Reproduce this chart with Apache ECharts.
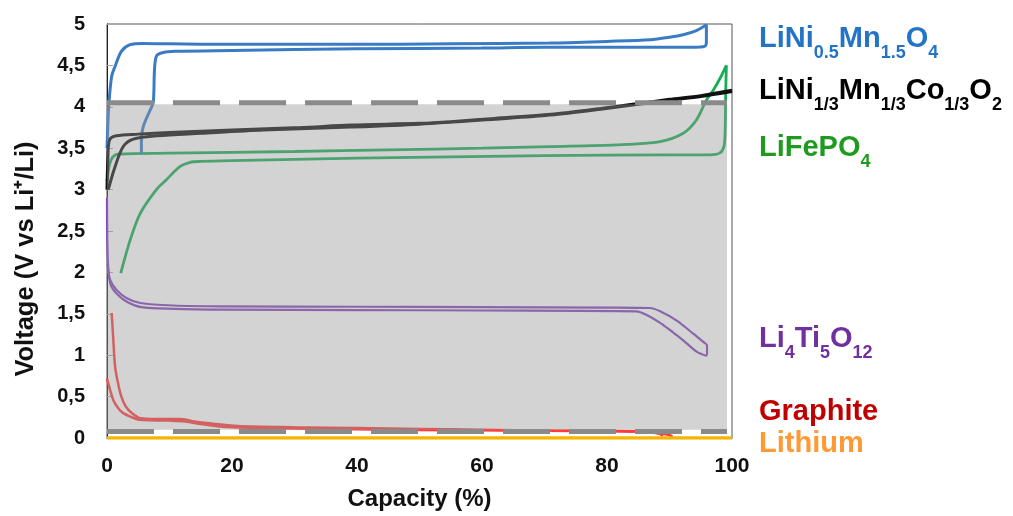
<!DOCTYPE html>
<html>
<head>
<meta charset="utf-8">
<script src="https://cdn.jsdelivr.net/npm/echarts@6/dist/echarts.min.js"></script>
<style>
html,body{margin:0;padding:0;background:#fff;}
#chart{width:1013px;height:516px;}
</style>
</head>
<body>
<div id="chart"></div>
<script>
// ---- axis ticks ----
var capacityTicks = [0, 20, 40, 60, 80, 100];
var voltageTickLabels = ['0', '0,5', '1', '1,5', '2', '2,5', '3', '3,5', '4', '4,5', '5'];

// ---- stability window (V) ----
var windowBounds = [0.1, 4.03];
var windowEnd = 99.2;
var dashedLevels = [4.05, 0.077];

// ---- LiNi0.5Mn1.5O4 ----
var lnmoCharge = [[0,3.5],[0.15,3.8],[0.3,4.04],[0.75,4.37],[1.3,4.49],[2.3,4.67],[3.7,4.75],[5.8,4.765],[10,4.76],[20,4.755],[38.8,4.755],[55,4.76],[70.8,4.77],[80,4.79],[86.9,4.81],[90,4.84],[92.2,4.87],[94.3,4.92],[95.7,4.98],[95.9,4.995]];
var lnmoDischarge = [[95.9,4.995],[95.9,4.78],[95.6,4.73],[94,4.72],[80,4.72],[70,4.72],[60,4.71],[40,4.70],[20,4.68],[11,4.67],[8.7,4.65],[7.9,4.61],[7.6,4.45],[7.4,4.05],[6.9,3.96],[5.8,3.76],[5.5,3.6],[5.5,3.44]];

// ---- LiNi1/3Mn1/3Co1/3O2 ----
var nmcCharge = [[0,3.0],[0.15,3.4],[0.4,3.6],[1.5,3.65],[5,3.67],[10,3.69],[20,3.72],[31,3.75],[39,3.78],[50,3.8],[55,3.82],[62,3.86],[71,3.91],[79,3.98],[85,4.04],[90,4.09],[95,4.135],[100,4.2]];
var nmcDischarge = [[0.2,3.0],[1.3,3.28],[2.6,3.52],[4.2,3.61],[8,3.65],[15,3.68],[25,3.72],[39,3.755],[50,3.79],[62,3.85],[71,3.9],[79,3.97],[85,4.03],[90,4.08],[95,4.125],[100,4.185]];

// ---- LiFePO4 ----
var lfpCharge = [[0,3.1],[0.4,3.3],[1,3.4],[2,3.43],[10,3.44],[30,3.46],[45,3.48],[60,3.5],[71,3.52],[81.5,3.54],[88.5,3.58],[92.2,3.68],[94.3,3.84],[95.9,4.08],[97,4.2],[98.2,4.36],[99.1,4.5]];
var lfpDischarge = [[99.1,4.5],[99.0,4.2],[98.9,3.7],[98.7,3.52],[98,3.44],[96.5,3.42],[90,3.42],[70,3.41],[40,3.38],[20,3.35],[15,3.34],[13.3,3.33],[11.7,3.28],[9.5,3.12],[7.9,3.0],[5.3,2.71],[3.7,2.39],[2.2,1.99]];

// ---- Li4Ti5O12 ----
var ltoCharge = [[0,2.9],[0.05,2.4],[0.2,2.05],[0.5,1.91],[1.5,1.79],[3.1,1.69],[5.3,1.63],[10.6,1.6],[18.6,1.59],[40,1.585],[60,1.58],[80,1.575],[86.9,1.57],[88.5,1.53],[91.1,1.42],[93.8,1.26],[95.4,1.16],[96,1.12],[96,1.0]];
var ltoDischarge = [[0.1,2.1],[0.6,1.85],[1.6,1.74],[3.3,1.64],[5.5,1.58],[10.6,1.56],[18.6,1.55],[40,1.545],[60,1.54],[84.7,1.53],[86.5,1.48],[88.5,1.39],[90.5,1.28],[92.2,1.18],[94.4,1.04],[96,0.99]];

// ---- Graphite ----
var graphiteA = [[0.75,1.51],[1.0,1.2],[1.3,0.86],[1.8,0.65],[2.3,0.5],[3,0.38],[4,0.3],[5.3,0.24],[8,0.23],[11.7,0.23],[14,0.2],[16,0.18],[21,0.145],[30,0.13],[40,0.12],[50,0.11],[60,0.1],[70,0.09],[80,0.085],[86,0.08],[88,0.06],[89,0.03]];
var graphiteB = [[0,0.72],[0.5,0.58],[1,0.46],[1.8,0.36],[2.6,0.3],[4,0.25],[5.3,0.22],[10,0.21],[12.5,0.2],[15,0.17],[18,0.14],[25,0.12],[35,0.11],[45,0.1],[55,0.095],[65,0.09],[75,0.085],[85,0.075],[89,0.05],[90.5,0.02]];

// ---- Lithium ----
var lithium = [[0,0],[100,0]];

var chart = echarts.init(document.getElementById('chart'), null, {renderer:'canvas'});
var NARROW = '"Liberation Sans Narrow", "Liberation Sans", Arial, sans-serif';
var SANS = '"Liberation Sans", Arial, sans-serif';

function curve(data, color, width, z) {
  return {type:'line', data:data, showSymbol:false, symbol:'none', smooth:0.3, z:z||3,
    lineStyle:{color:color, width:width||3}, silent:true, animation:false};
}

function lab(parts, color) {
  var txt = parts.map(function(p){ return '{' + (p[1] ? 's' : 'm') + '|' + p[0] + '}'; }).join('');
  return {
    text: txt,
    rich: {
      m: {fontFamily: SANS, fontWeight:'bold', fontSize:29, lineHeight:47, fill:color, color:color},
      s: {fontFamily: SANS, fontWeight:'bold', fontSize:18, lineHeight:19, verticalAlign:'bottom', fill:color, color:color}
    }
  };
}

var labels = [
  {y:47, color:'#2374c6', parts:[['LiNi'],['0.5',1],['Mn'],['1.5',1],['O'],['4',1]]},
  {y:99, color:'#000000', parts:[['LiNi'],['1/3',1],['Mn'],['1/3',1],['Co'],['1/3',1],['O'],['2',1]]},
  {y:156, color:'#1e9a1e', parts:[['LiFePO'],['4',1]]},
  {y:347, color:'#7030a0', parts:[['Li'],['4',1],['Ti'],['5',1],['O'],['12',1]]},
  {y:420, color:'#c00000', parts:[['Graphite']]},
  {y:452, color:'#ff9933', parts:[['Lithium']]}
];

var graphics = labels.map(function(l){
  var st = lab(l.parts, l.color);
  return {type:'text', left:759, top:l.y - 23, z:100, style:{text:st.text, rich:st.rich}};
});
graphics.push({
  type:'text', x:26, y:259, rotation:Math.PI/2, z:100,
  style:{text:'Voltage (V vs Li\u207A/Li)', font:'bold 25.5px ' + NARROW, fill:'#111',
    align:'center', verticalAlign:'middle', textAlign:'center', textVerticalAlign:'middle'}
});

var option = {
  animation:false,
  backgroundColor:'#fff',
  grid:{left:107, right:281, top:24, bottom:78, show:true, borderColor:'#555', borderWidth:1, backgroundColor:'#fff'},
  xAxis:{type:'value', min:0, max:100, interval:20,
    name:'Capacity (%)', nameLocation:'middle', nameGap:49,
    nameTextStyle:{fontFamily:NARROW, fontWeight:'bold', fontSize:24, color:'#111'},
    axisLine:{show:true, lineStyle:{color:'#555', width:1}},
    axisTick:{show:false}, splitLine:{show:false},
    axisLabel:{fontFamily:NARROW, fontWeight:'bold', fontSize:21, color:'#111', margin:18,
      formatter:function(v){ return capacityTicks.indexOf(v) >= 0 ? String(v) : ''; }}
  },
  yAxis:{type:'value', min:0, max:5, interval:0.5,
    axisLine:{show:true, lineStyle:{color:'#222', width:1}},
    axisTick:{show:true, inside:true, length:6, lineStyle:{color:'#aaa'}},
    splitLine:{show:false},
    axisLabel:{fontFamily:NARROW, fontWeight:'bold', fontSize:20, color:'#111', margin:22,
      formatter:function(v, i){ return voltageTickLabels[Math.round(v*2)]; }}
  },
  graphic: graphics,
  series:[
    curve(graphiteA, '#ff3b3b', 2.5, 2),
    curve(graphiteB, '#ff3b3b', 2.5, 2),
    curve(ltoCharge, '#8244bb', 2.2, 3),
    curve(ltoDischarge, '#8244bb', 2.2, 3),
    curve(lfpCharge, '#17ad55', 2.8, 3),
    curve(lfpDischarge, '#17ad55', 2.8, 3),
    curve(lnmoCharge, '#3a7cc4', 3, 3),
    curve(lnmoDischarge, '#3a7cc4', 3, 3),
    curve(nmcDischarge, '#111111', 3, 3),
    curve(nmcCharge, '#111111', 3, 3),
    {type:'line', data:[[0, windowBounds[1]],[windowEnd, windowBounds[1]]], showSymbol:false, symbol:'none', z:5,
      lineStyle:{width:0}, areaStyle:{color:'rgb(150,150,150)', opacity:0.42, origin:windowBounds[0]}, silent:true},
    {type:'line', data:[[0, dashedLevels[0]],[windowEnd, dashedLevels[0]]], showSymbol:false, symbol:'none', z:6,
      lineStyle:{color:'#8a8a8a', width:5, type:[47,19], cap:'butt'}, silent:true},
    {type:'line', data:[[0, dashedLevels[1]],[windowEnd, dashedLevels[1]]], showSymbol:false, symbol:'none', z:6,
      lineStyle:{color:'#8a8a8a', width:5, type:[47,19], cap:'butt'}, silent:true},
    {type:'line', data:lithium, showSymbol:false, symbol:'none', z:7,
      lineStyle:{color:'#f7b500', width:3.5}, silent:true}
  ]
};
chart.setOption(option);
</script>
</body>
</html>
